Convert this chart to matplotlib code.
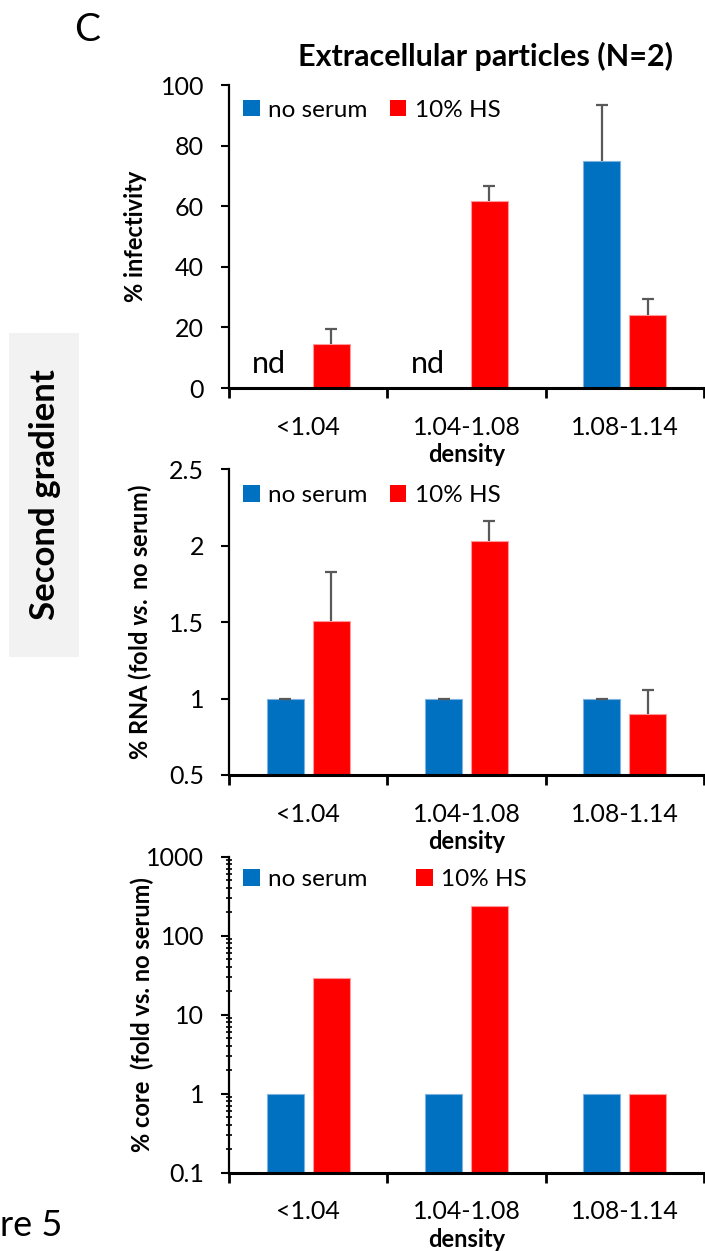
import matplotlib
matplotlib.use('Agg')
import matplotlib.pyplot as plt
import numpy as np
from matplotlib.patches import Patch, Rectangle
from matplotlib.ticker import FuncFormatter, LogLocator, NullFormatter

plt.rcParams['font.family'] = ['Lato', 'DejaVu Sans']
plt.rcParams['mathtext.fontset'] = 'custom'
plt.rcParams['mathtext.rm'] = 'Lato:bold'
plt.rcParams['mathtext.it'] = 'Lato:italic:bold'

# data
categories = ['<1.04', '1.04-1.08', '1.08-1.14']
series_names = ['no serum', '10% HS']

infect_noserum = [0, 0, 74.8]
infect_noserum_err = [0, 0, 18.7]
infect_nd = [True, True, False]
infect_hs = [14.5, 61.6, 24.1]
infect_hs_err = [5.0, 5.1, 5.3]

rna_noserum = [1.0, 1.0, 1.0]
rna_noserum_err = [0.0, 0.0, 0.0]
rna_hs = [1.51, 2.03, 0.90]
rna_hs_err = [0.32, 0.13, 0.155]

core_noserum = [1, 1, 1]
core_hs = [29, 240, 1]

BLUE = '#0070C0'
RED = '#FF0000'
ERR = '#595959'

fig = plt.figure(figsize=(7.05, 12.51), dpi=100)
ax1 = fig.add_axes([0.3248, 0.6898, 0.6738, 0.2422])
ax2 = fig.add_axes([0.3248, 0.3805, 0.6738, 0.2444])
ax3 = fig.add_axes([0.3248, 0.0626, 0.6738, 0.2526])

x = np.arange(len(categories))
off = 0.145
w = 0.235


def upper_err(ax, xpos, vals, errs):
    # only the upper half of the error bar, Excel style
    vals = np.asarray(vals, float)
    tops = vals + np.asarray(errs, float)
    ax.vlines(xpos, vals, tops, color=ERR, linewidth=1.6, zorder=3)
    ax.plot(xpos, tops, ls='none', marker='_', ms=9, mew=1.6, color=ERR, zorder=3)


def draw_bars(ax, a, b, a_err=None, b_err=None, skip=None):
    ax.bar(x - off, a, w, color=BLUE, edgecolor='#7fb2e0', linewidth=0.8, zorder=2)
    ax.bar(x + off, b, w, color=RED, edgecolor='#ff9a9a', linewidth=0.8, zorder=2)
    if a_err is not None:
        keep = [i for i in range(len(a)) if not (skip and skip[i])]
        upper_err(ax, x[keep] - off, np.array(a)[keep], np.array(a_err)[keep])
    if b_err is not None:
        upper_err(ax, x + off, b, b_err)


def style_axis(ax, ylabel, ylabel_x, leg_xy, colspace):
    for s in ['top', 'right']:
        ax.spines[s].set_visible(False)
    ax.spines['bottom'].set_linewidth(2.2)
    ax.spines['left'].set_linewidth(1.6)
    ax.set_xlim(-0.5, 2.5)
    ax.set_xticks([-0.5, 0.5, 1.5, 2.5])
    ax.set_xticklabels([])
    ax.set_xticks(x, minor=True)
    ax.set_xticklabels(categories, minor=True)
    ax.tick_params(axis='x', which='major', length=7, width=2, direction='out')
    ax.tick_params(axis='x', which='minor', length=0, labelsize=18, pad=20)
    ax.tick_params(axis='y', which='major', length=6, width=1.5, labelsize=18, pad=12)
    ax.set_xlabel('density', fontsize=17, fontweight='bold', labelpad=3)
    ax.set_ylabel(ylabel, fontsize=17, fontweight='bold')
    ax.yaxis.set_label_coords(ylabel_x, 0.5)
    handles = [Patch(facecolor=BLUE, label=series_names[0]),
               Patch(facecolor=RED, label=series_names[1])]
    ax.legend(handles=handles, loc='upper left', bbox_to_anchor=leg_xy, ncol=2,
              frameon=False, fontsize=17.5, handlelength=0.68, handleheight=0.68,
              handletextpad=0.35, columnspacing=colspace, borderpad=0, borderaxespad=0)


fmt = FuncFormatter(lambda v, p: f'{v:g}')

# panel 1: infectivity
draw_bars(ax1, infect_noserum, infect_hs, infect_noserum_err, infect_hs_err, skip=infect_nd)
ax1.set_ylim(0, 100)
ax1.set_yticks([0, 20, 40, 60, 80, 100])
style_axis(ax1, '% infectivity', -0.172, (0.030, 0.952), 0.9)
for i, nd in enumerate(infect_nd):
    if nd:
        ax1.text(x[i] - off - 0.1, 5, 'nd', fontsize=22, ha='center', va='baseline')
ax1.set_title('Extracellular particles (N=2)', fontsize=22, fontweight='bold', pad=14,
              x=0.54)

# panel 2: RNA
draw_bars(ax2, rna_noserum, rna_hs, rna_noserum_err, rna_hs_err)
ax2.set_ylim(0.5, 2.5)
ax2.set_yticks([0.5, 1, 1.5, 2, 2.5])
ax2.yaxis.set_major_formatter(fmt)
style_axis(ax2, r'% RNA (fold $\mathit{vs.}$ no serum)', -0.158, (0.030, 0.948), 0.9)

# panel 3: core (log)
draw_bars(ax3, core_noserum, core_hs)
ax3.set_yscale('log')
ax3.set_ylim(0.1, 1000)
ax3.yaxis.set_major_locator(LogLocator(base=10, numticks=10))
ax3.yaxis.set_minor_locator(LogLocator(base=10, subs=np.arange(2, 10), numticks=20))
ax3.yaxis.set_major_formatter(fmt)
ax3.yaxis.set_minor_formatter(NullFormatter())
ax3.tick_params(axis='y', which='minor', length=4, width=1.2, direction='inout')
style_axis(ax3, '% core  (fold vs. no serum)', -0.158, (0.030, 0.962), 2.0)

# side decorations
fig.add_artist(Rectangle((9 / 705, 1 - 657 / 1251), 70 / 705, 324 / 1251,
                         transform=fig.transFigure, facecolor='#F2F2F2',
                         edgecolor='none', zorder=0))
fig.text(45 / 705, 1 - 495 / 1251, 'Second gradient', rotation=90, fontsize=25,
         fontweight='bold', ha='center', va='center')
fig.text(87 / 705, 1 - 30 / 1251, 'C', fontsize=28, ha='center', va='center')
fig.text(0, 1 - 1226 / 1251, 're 5', fontsize=26, ha='left', va='center')

fig.savefig('out.png', dpi=100)
